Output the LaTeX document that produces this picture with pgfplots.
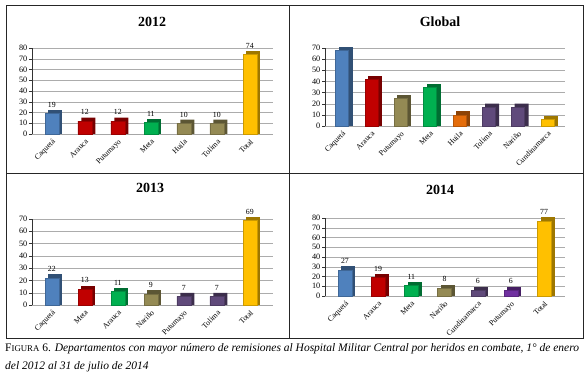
\documentclass[border=0pt]{standalone}
\usepackage{pgfplots}
\pgfplotsset{compat=1.18}
\usepackage{fontspec}
\setmainfont{Liberation Serif}
\definecolor{cblue}{HTML}{4F81BD}
\definecolor{cred}{HTML}{C00000}
\definecolor{cgreen}{HTML}{00B050}
\definecolor{colive}{HTML}{948A54}
\definecolor{corange}{HTML}{E46C0A}
\definecolor{cpurple}{HTML}{604A7B}
\definecolor{cviolet}{HTML}{7030A0}
\definecolor{cgold}{HTML}{FFC000}
\pgfplotsset{
  panel/.style={scale only axis, anchor=south west, clip=false,
    axis x line*=bottom, axis y line*=left, ymin=0,
    ymajorgrids, grid style={gray!65, line width=0.4pt},
    x axis line style={gray!70, line width=0.5pt},
    y axis line style={gray!40!black, line width=0.4pt},
    tick align=outside, major tick length=3pt,
    major x tick style={draw=none},
    major y tick style={gray!40!black},
    xticklabel style={rotate=45, anchor=north east, inner sep=1pt, font=\fontsize{7.8}{8}\selectfont},
    yticklabel style={font=\fontsize{8.2}{9}\selectfont, inner sep=1.5pt},
    /pgf/number format/assume math mode=true},
  back/.style 2 args={ybar, bar width=14pt, bar shift=3.5pt, draw=none,
    fill=#1!62!black, y filter/.expression={y+#2}, forget plot},
  front/.style={ybar, bar width=14pt, bar shift=0pt, fill=#1, draw=#1!80!black, line width=0.3pt,
    nodes near coords, every node near coord/.append style={font=\fontsize{7.8}{8}\selectfont, yshift=5pt, inner sep=1pt}},
  frontnl/.style={ybar, bar width=13pt, bar shift=0pt, fill=#1, draw=#1!80!black, line width=0.3pt},
}
\begin{document}
\begin{tikzpicture}[x=1pt,y=1pt]
\path (0pt,0pt) rectangle (587pt,381pt);
\draw[line width=0.6pt, gray!30!black] (6pt,43pt) rectangle (583pt,376pt);
\draw[line width=0.6pt, gray!30!black] (289pt,43pt) -- (289pt,376pt);
\draw[line width=0.6pt, gray!30!black] (6pt,208pt) -- (583pt,208pt);

\node[font=\bfseries\fontsize{14}{16}\selectfont] at (152pt,359pt) {2012};
\node[font=\bfseries\fontsize{14}{16}\selectfont] at (440pt,359pt) {Global};
\node[font=\bfseries\fontsize{14}{16}\selectfont] at (150pt,193pt) {2013};
\node[font=\bfseries\fontsize{14}{16}\selectfont] at (440pt,191pt) {2014};

% 2012
\begin{axis}[panel, at={(32pt,247pt)}, width=241pt, height=86pt,
  ymax=80, ytick={0,10,...,80}, xmin=-0.6, xmax=6.7, xtick={0,...,6},
  xticklabels={Caquetá,Arauca,Putumayo,Meta,Huila,Tolima,Total}]
\addplot[back={cblue}{3.3}] coordinates {(0,19)};
\addplot[front=cblue] coordinates {(0,19)};
\addplot[back={cred}{3.3}] coordinates {(1,12) (2,12)};
\addplot[front=cred] coordinates {(1,12) (2,12)};
\addplot[back={cgreen}{3.3}] coordinates {(3,11)};
\addplot[front=cgreen] coordinates {(3,11)};
\addplot[back={colive}{3.3}] coordinates {(4,10) (5,10)};
\addplot[front=colive] coordinates {(4,10) (5,10)};
\addplot[back={cgold}{3.3}] coordinates {(6,74)};
\addplot[front=cgold] coordinates {(6,74)};
\end{axis}

% Global
\begin{axis}[panel, at={(325pt,255pt)}, width=240pt, height=78pt,
  ymax=70, ytick={0,10,...,70}, xmin=-0.58, xmax=7.6, xtick={0,...,7},
  xticklabels={Caquetá,Arauca,Putumayo,Meta,Huila,Tolima,Nariño,Cundinamarca}]
\addplot[back={cblue}{3.1}] coordinates {(0,68)};
\addplot[frontnl=cblue] coordinates {(0,68)};
\addplot[back={cred}{3.1}] coordinates {(1,42)};
\addplot[frontnl=cred] coordinates {(1,42)};
\addplot[back={colive}{3.1}] coordinates {(2,25)};
\addplot[frontnl=colive] coordinates {(2,25)};
\addplot[back={cgreen}{3.1}] coordinates {(3,35)};
\addplot[frontnl=cgreen] coordinates {(3,35)};
\addplot[back={corange}{3.1}] coordinates {(4,10)};
\addplot[frontnl=corange] coordinates {(4,10)};
\addplot[back={cpurple}{3.1}] coordinates {(5,17) (6,17)};
\addplot[frontnl=cpurple] coordinates {(5,17) (6,17)};
\addplot[back={cgold}{3.1}] coordinates {(7,6)};
\addplot[frontnl=cgold] coordinates {(7,6)};
\end{axis}

% 2013
\begin{axis}[panel, at={(32pt,76pt)}, width=241pt, height=86pt,
  ymax=70, ytick={0,10,...,70}, xmin=-0.6, xmax=6.7, xtick={0,...,6},
  xticklabels={Caquetá,Meta,Arauca,Nariño,Putumayo,Tolima,Total}]
\addplot[back={cblue}{2.85}] coordinates {(0,22)};
\addplot[front=cblue] coordinates {(0,22)};
\addplot[back={cred}{2.85}] coordinates {(1,13)};
\addplot[front=cred] coordinates {(1,13)};
\addplot[back={cgreen}{2.85}] coordinates {(2,11)};
\addplot[front=cgreen] coordinates {(2,11)};
\addplot[back={colive}{2.85}] coordinates {(3,9)};
\addplot[front=colive] coordinates {(3,9)};
\addplot[back={cpurple}{2.85}] coordinates {(4,7) (5,7)};
\addplot[front=cpurple] coordinates {(4,7) (5,7)};
\addplot[back={cgold}{2.85}] coordinates {(6,69)};
\addplot[front=cgold] coordinates {(6,69)};
\end{axis}

% 2014
\begin{axis}[panel, at={(325pt,85pt)}, width=240pt, height=78pt,
  ymax=80, ytick={0,10,...,80}, xmin=-0.6, xmax=6.63, xtick={0,...,6},
  xticklabels={Caquetá,Arauca,Meta,Nariño,Cundinamarca,Putumayo,Total}]
\addplot[back={cblue}{3.6}] coordinates {(0,27)};
\addplot[front=cblue] coordinates {(0,27)};
\addplot[back={cred}{3.6}] coordinates {(1,19)};
\addplot[front=cred] coordinates {(1,19)};
\addplot[back={cgreen}{3.6}] coordinates {(2,11)};
\addplot[front=cgreen] coordinates {(2,11)};
\addplot[back={colive}{3.6}] coordinates {(3,8)};
\addplot[front=colive] coordinates {(3,8)};
\addplot[back={cpurple}{3.6}] coordinates {(4,6)};
\addplot[front=cpurple] coordinates {(4,6)};
\addplot[back={cviolet}{3.6}] coordinates {(5,6)};
\addplot[front=cviolet] coordinates {(5,6)};
\addplot[back={cgold}{3.6}] coordinates {(6,77)};
\addplot[front=cgold] coordinates {(6,77)};
\end{axis}

\node[anchor=base west, inner sep=0pt, font=\fontsize{11.5}{13}\selectfont] at (5pt,30pt)
  {F{\fontsize{8.8}{9}\selectfont IGURA} 6. \textit{Departamentos con mayor número de remisiones al Hospital Militar Central por heridos en combate, 1° de enero}};
\node[anchor=base west, inner sep=0pt, font=\fontsize{11.5}{13}\selectfont] at (5pt,12pt)
  {\textit{del 2012 al 31 de julio de 2014}};
\end{tikzpicture}
\end{document}
